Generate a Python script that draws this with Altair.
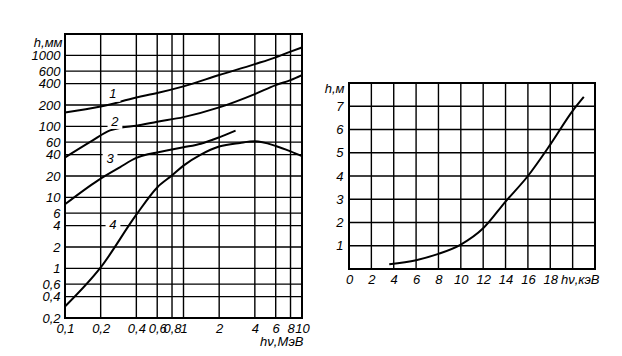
import altair as alt
import pandas as pd

# ---------- left panel data (log-log) ----------
c1_x = [0.1, 0.2, 0.4, 0.6, 1, 2, 4, 6, 8, 10]
c1_y = [157, 190, 255, 295, 366, 528, 752, 938, 1130, 1295]
c2_x = [0.1, 0.17, 0.24, 0.3, 0.4, 0.6, 1, 2, 4, 6, 8, 10]
c2_y = [36.5, 63, 88, 96, 102, 116, 135, 185, 285, 381, 449, 528]
c3_x = [0.1, 0.19, 0.29, 0.4, 0.5, 0.6, 1, 1.4, 2, 2.75]
c3_y = [8, 17.4, 26.5, 36, 40.5, 43, 50.7, 57, 70, 87]
c4_x = [0.1, 0.2, 0.4, 0.6, 0.8, 1, 1.4, 2, 3, 4, 6, 8, 10]
c4_y = [0.29, 1.03, 5.7, 13.8, 20.4, 28, 40, 52, 58.5, 61.5, 53, 44.5, 38]

curve_names = ["1", "2", "3", "4"]
label_x = [0.254, 0.264, 0.24, 0.254]
label_y = [282, 117, 34.3, 4.03]

left_x_ticks = [0.1, 0.2, 0.4, 0.6, 0.8, 1, 2, 4, 6, 8, 10]
left_y_ticks = [0.2, 0.4, 0.6, 1, 2, 4, 6, 10, 20, 40, 60, 100, 200, 400, 600, 1000]

# ---------- right panel data (linear) ----------
r_x = [3.6, 6, 8, 10, 12, 14, 16, 18, 20, 21]
r_y = [0.2, 0.38, 0.65, 1.05, 1.75, 2.9, 4.0, 5.35, 6.8, 7.4]
right_x_ticks = [0, 2, 4, 6, 8, 10, 12, 14, 16, 18, 20, 22]
right_y_ticks = [0, 1, 2, 3, 4, 5, 6, 7, 8]

FONT = "Liberation Sans"

rows = []
for name, xs, ys in zip(curve_names, [c1_x, c2_x, c3_x, c4_x], [c1_y, c2_y, c3_y, c4_y]):
    for x, y in zip(xs, ys):
        rows.append({"curve": name, "e": x, "h": y})
left_df = pd.DataFrame(rows)
lab_df = pd.DataFrame({"e": label_x, "h": label_y, "t": curve_names})
right_df = pd.DataFrame({"e": r_x, "h": r_y})
lx_df = pd.DataFrame({"e": left_x_ticks})
ly_df = pd.DataFrame({"h": left_y_ticks})
rx_df = pd.DataFrame({"e": right_x_ticks})
ry_df = pd.DataFrame({"h": right_y_ticks})

comma = "replace(toString(datum.value), '.', ',')"

xL = alt.X("e:Q", scale=alt.Scale(type="log", domain=[0.1, 10], nice=False),
           axis=alt.Axis(values=left_x_ticks, labelExpr=comma, title="hν,МэВ",
                         titleX=238, titleY=17, titleAlign="right", titleBaseline="top",
                         ticks=False, domain=False, labelOverlap=False, labelFlush=False,
                         labelPadding=4, grid=False))
yL = alt.Y("h:Q", scale=alt.Scale(type="log", domain=[0.2, 2000], nice=False),
           axis=alt.Axis(values=left_y_ticks, labelExpr=comma, title="h,мм",
                         titleAngle=0, titleX=-3, titleY=8, titleAlign="right",
                         titleBaseline="middle", ticks=False, domain=False,
                         labelOverlap=False, labelPadding=5, grid=False))

GRID = dict(color="black", strokeWidth=1.4)

left_vgrid = alt.Chart(lx_df).mark_rule(**GRID).encode(x=xL)
left_hgrid = alt.Chart(ly_df).mark_rule(**GRID).encode(
    y=yL, x=alt.datum(0.1), x2=alt.datum(10))
left_lines = alt.Chart(left_df).mark_line(color="black", strokeWidth=2, interpolate="monotone").encode(
    x=xL, y=yL, detail="curve:N")
left_boxes = alt.Chart(lab_df).mark_point(shape="square", filled=True, color="white", opacity=1,
                                          size=220).encode(x=xL, y=yL)
left_text = alt.Chart(lab_df).mark_text(font=FONT, fontSize=13, fontStyle="italic", color="black").encode(
    x=xL, y=yL, text="t:N")
left = alt.layer(left_vgrid, left_hgrid, left_lines, left_boxes, left_text).properties(width=237, height=284)

xR = alt.X("e:Q", scale=alt.Scale(domain=[0, 22], nice=False),
           axis=alt.Axis(values=right_x_ticks, labelExpr="datum.value <= 18 ? datum.value : ''",
                         title="hν,кэВ", titleX=250, titleY=4, titleAlign="right",
                         titleBaseline="top", ticks=False, domain=False, labelOverlap=False,
                         labelFlush=False, labelPadding=4, grid=False))
yR = alt.Y("h:Q", scale=alt.Scale(domain=[0, 8], nice=False),
           axis=alt.Axis(values=right_y_ticks,
                         labelExpr="datum.value >= 1 && datum.value <= 7 ? datum.value : ''",
                         title="h,м", titleAngle=0, titleX=-5, titleY=5, titleAlign="right",
                         titleBaseline="middle", ticks=False, domain=False, labelOverlap=False,
                         labelFlush=False, labelPadding=6, grid=False))
right_vgrid = alt.Chart(rx_df).mark_rule(**GRID).encode(x=xR)
right_hgrid = alt.Chart(ry_df).mark_rule(**GRID).encode(y=yR)
right_line = alt.Chart(right_df).mark_line(color="black", strokeWidth=2, interpolate="monotone").encode(
    x=xR, y=yR)
right = alt.layer(right_vgrid, right_hgrid, right_line).properties(width=246, height=186)

chart = alt.hconcat(left, right, spacing=47, bounds="flush", center=True).configure_view(
    stroke="black", strokeWidth=2
).configure_axis(
    labelFont=FONT, titleFont=FONT, labelFontSize=13, titleFontSize=13,
    labelFontStyle="italic", titleFontStyle="italic", titleFontWeight="normal",
    labelColor="black", titleColor="black"
).properties(padding={"left": 22, "top": 24, "right": 5, "bottom": 5})

chart.save("out.html", embed_options={"renderer": "svg", "actions": False})
